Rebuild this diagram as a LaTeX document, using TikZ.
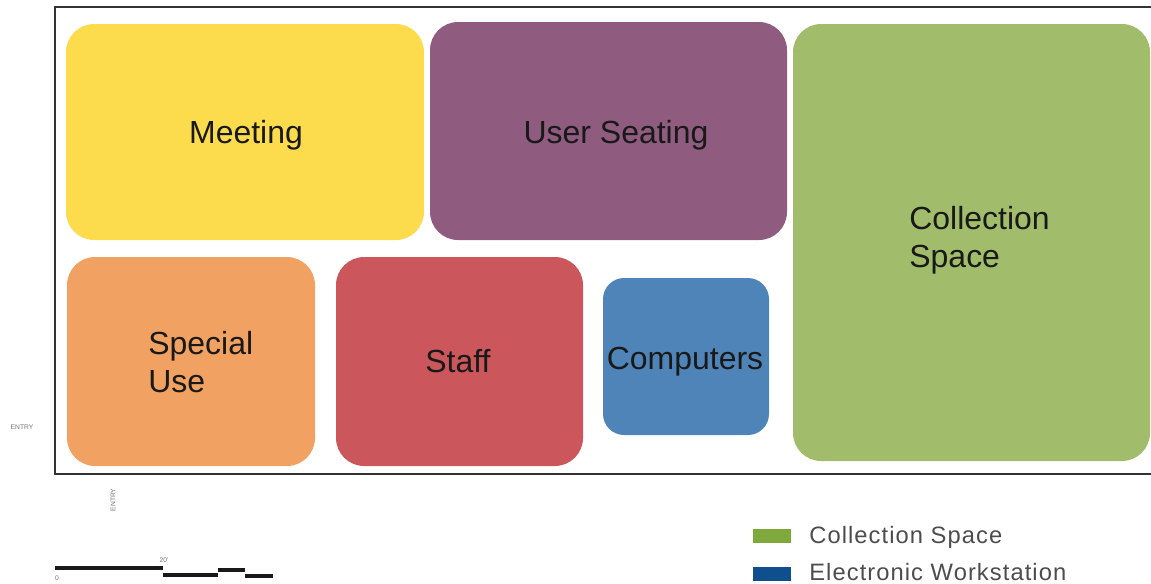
\documentclass[tikz,border=0pt]{standalone}
\usepackage{fontspec}
\setmainfont{Liberation Sans}
\newfontfamily\legendfont[LetterSpace=4.5]{Liberation Sans}
\definecolor{Yl}{HTML}{FCDC4D}
\definecolor{Pu}{HTML}{8F5C80}
\definecolor{Gr}{HTML}{A1BD6B}
\definecolor{Or}{HTML}{F1A262}
\definecolor{Rd}{HTML}{CB575C}
\definecolor{Bl}{HTML}{4E84B8}
\definecolor{LGr}{HTML}{7FAA3B}
\definecolor{LBl}{HTML}{104F8E}
\definecolor{Frm}{HTML}{333333}
\tikzset{
  zone/.style={rounded corners=16pt},
  zlabel/.style={font=\fontsize{18.2}{21.6}\selectfont, text=black!90, align=left, inner sep=0pt},
  tiny/.style={font=\fontsize{3.8}{4}\selectfont, text=black!55, inner sep=0pt},
  leg/.style={font=\legendfont\fontsize{13.5}{15}\selectfont, text=black!70, anchor=west, inner sep=0pt},
  bar/.style={line width=2.3pt, black!90}
}

\begin{document}
\begin{tikzpicture}[x=0.02cm, y=-0.02cm]
      \useasboundingbox (0,0) rectangle (1151,583);
      % zones
      \fill[zone, Yl] (66,24) rectangle (424,240);
      \fill[zone, Pu] (430,22) rectangle (787,240);
      \fill[zone, Gr] (793,24) rectangle (1150,461);
      \fill[zone, Or] (67,257) rectangle (315,466);
      \fill[zone, Rd] (336,257) rectangle (583,466);
      \fill[zone, Bl, rounded corners=12pt] (603,278) rectangle (769,435);
      % frame
      \draw[Frm, line width=1.2pt] (1151,7) -- (55,7) -- (55,474) -- (1151,474);
      % labels
      \node[zlabel] (meeting) at (246,135) {Meeting};
      \node[zlabel] (seating) at (616,135) {User Seating};
      \node[zlabel, anchor=west] (collection) at (909,240) {Collection\\Space};
      \node[zlabel, anchor=west] (special) at (148,362) {Special\\Use};
      \node[zlabel] (staff) at (458,361) {Staff};
      \node[zlabel] (computers) at (685,362) {Computers};
      % entries
      \node[tiny] (entryA) at (22,427) {ENTRY};
      \node[tiny, rotate=90] (entryB) at (113,500) {ENTRY};
      % scale bar
      \coordinate (s0) at (55,568);
      \coordinate (s1) at (163,568);
      \draw[bar] (s0) -- (s1);
      \draw[bar] (163,575) -- (218,575);
      \draw[bar] (218,570) -- (245,570);
      \draw[bar] (245,576) -- (273,576);
      \node[tiny] (zero) at (57,578) {0};
      \node[tiny] (twenty) at (164,560) {20'};
      % legend
      \fill[LGr] (753,529) rectangle (791,543);
      \fill[LBl] (753,567) rectangle (791,581);
      \node[leg] (legA) at (809,537) {Collection Space};
      \node[leg] (legB) at (809,572) {Electronic Workstation};
    \end{tikzpicture}
\end{document}
